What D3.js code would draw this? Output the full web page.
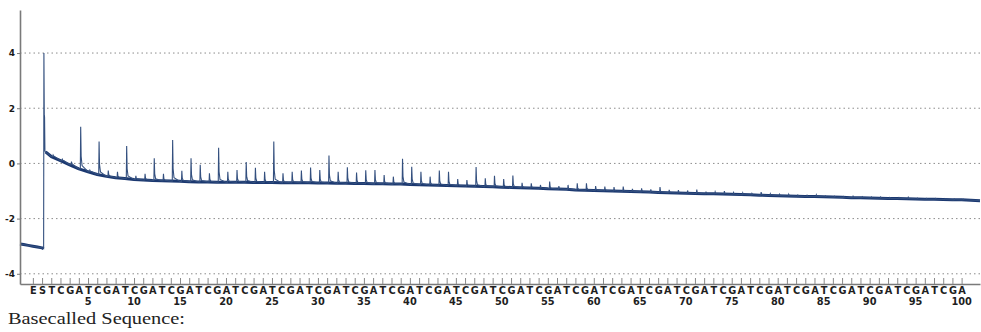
<!DOCTYPE html>
<html>
<head>
<meta charset="utf-8">
<script src="https://cdn.jsdelivr.net/npm/d3@7/dist/d3.min.js"></script>
<style>
  html, body { margin: 0; padding: 0; background: #fff; }
  svg { display: block; }
</style>
</head>
<body>
<svg id="chart" width="981" height="332"></svg>
<script>
// ---- data ----
const dispensationLetters = ("ES" +
  "TCGATCGATCGATCGATCGA" + "TCGATCGATCGATCGATCGA" + "TCGATCGATCGATCGATCGA" +
  "TCGATCGATCGATCGATCGA" + "TCGATCGATCGATCGATCGA").split("");
// dispensation index: E = -1, S = 0, nucleotides 1..100
const numberTicks = [5,10,15,20,25,30,35,40,45,50,55,60,65,70,75,80,85,90,95,100];
const yTicks = [4, 2, 0, -2, -4];

// signal before / at the E,S dispensations
const startPos = [-2.4, -2.0, -1.5, -1.0, -0.5, 0.0, 0.17, 0.2, 0.24, 0.27, 0.31, 0.38];
const startVal = [-2.92, -2.94, -2.97, -3.0, -3.03, -3.06, -3.09, 4.0, 1.75, 1.68, 0.45, 0.42];

// baseline level at each nucleotide dispensation 1..100
const baseline = [
  0.25, 0.1, -0.05, -0.2, -0.3, -0.4, -0.47, -0.52, -0.55, -0.58,
  -0.6, -0.62, -0.63, -0.64, -0.65, -0.66, -0.67, -0.67, -0.68, -0.68,
  -0.68, -0.68, -0.69, -0.69, -0.69, -0.7, -0.7, -0.7, -0.7, -0.71,
  -0.71, -0.72, -0.72, -0.73, -0.73, -0.74, -0.74, -0.75, -0.75, -0.76,
  -0.77, -0.78, -0.79, -0.8, -0.81, -0.82, -0.83, -0.84, -0.85, -0.86,
  -0.87, -0.88, -0.89, -0.9, -0.92, -0.93, -0.94, -0.96, -0.97, -0.98,
  -0.99, -1.0, -1.01, -1.02, -1.03, -1.04, -1.05, -1.06, -1.07, -1.08,
  -1.09, -1.1, -1.1, -1.11, -1.12, -1.13, -1.14, -1.15, -1.16, -1.17,
  -1.18, -1.19, -1.2, -1.2, -1.21, -1.22, -1.23, -1.24, -1.24, -1.25,
  -1.26, -1.27, -1.27, -1.28, -1.29, -1.3, -1.3, -1.31, -1.32, -1.32
];
// peak top at each nucleotide dispensation 1..100
const peakTop = [
  0.3, 0.15, 0.07, 1.33, -0.25, 0.79, -0.26, -0.30, 0.63, -0.45,
  -0.38, 0.19, -0.38, 0.85, -0.27, 0.19, -0.05, -0.36, 0.57, -0.30,
  -0.24, 0.05, -0.16, -0.30, 0.79, -0.36, -0.30, -0.26, -0.15, -0.24,
  0.29, -0.30, -0.14, -0.33, -0.25, -0.24, -0.42, -0.48, 0.17, -0.12,
  -0.30, -0.48, -0.26, -0.30, -0.57, -0.60, -0.13, -0.54, -0.45, -0.57,
  -0.44, -0.70, -0.72, -0.78, -0.66, -0.82, -0.78, -0.72, -0.72, -0.82,
  -0.84, -0.86, -0.84, -0.92, -0.90, -0.94, -0.86, -0.96, -0.97, -0.98,
  -0.95, -1.02, -1.03, -1.0, -1.06, -1.07, -1.09, -1.04, -1.1, -1.12,
  -1.12, -1.15, -1.16, -1.14, -1.18, -1.19, -1.2, -1.19, -1.21, -1.22,
  -1.22, -1.24, -1.24, -1.23, -1.26, -1.27, -1.27, -1.28, -1.29, -1.3
];
const endPos = 102, endVal = -1.35;

// ---- layout ----
const svg = d3.select("#chart");
const x = d3.scaleLinear().domain([-2.4, 102]).range([20, 980]);
const y = d3.scaleLinear().domain([-4.37, 5.56]).range([284, 10]);

// gridlines
svg.append("g").selectAll("line").data(yTicks).join("line")
  .attr("x1", x(-2.4)).attr("x2", x(102))
  .attr("y1", d => y(d)).attr("y2", d => y(d))
  .attr("stroke", "#8c8c8c").attr("stroke-width", 1)
  .attr("stroke-dasharray", "1.5,3");

// trace construction: sharp spike at each dispensation
const trace = [];
startPos.forEach((p, i) => trace.push([p, startVal[i]]));
const base = [];
base.push([startPos[startPos.length - 1], startVal[startVal.length - 1]]);
baseline.forEach((b, i) => {
  const p = i + 1, h = peakTop[i] - b;
  trace.push([p, b]);
  trace.push([p + 0.16, b]);
  trace.push([p + 0.2, peakTop[i]]);
  trace.push([p + 0.25, b + 0.3 * h]);
  trace.push([p + 0.35, b + 0.08 * h]);
  base.push([p, b]);
});
trace.push([endPos, endVal]);
base.push([endPos, endVal]);

const line = d3.line().x(d => x(d[0])).y(d => y(d[1]));
// thick baseline band
svg.append("path")
  .attr("d", line(startPos.slice(0, 7).map((p, i) => [p, startVal[i]])))
  .attr("fill", "none").attr("stroke", "#1b3870").attr("stroke-width", 3)
  .attr("stroke-linejoin", "round");
svg.append("path").attr("d", line(base))
  .attr("fill", "none").attr("stroke", "#1b3870").attr("stroke-width", 3)
  .attr("stroke-linejoin", "round");
// full signal trace
svg.append("path").attr("d", line(trace))
  .attr("fill", "none").attr("stroke", "#34507f").attr("stroke-width", 1.1)
  .attr("stroke-linejoin", "miter");

// y axis
const yAxis = svg.append("g").attr("transform", `translate(${x(-2.4)},0)`)
  .call(d3.axisLeft(y).tickValues(yTicks).tickSize(3).tickSizeOuter(0)
        .tickPadding(2).tickFormat(d => String(d)));
yAxis.select(".domain").attr("stroke", "#7a7a7a").attr("stroke-width", 1.6);
yAxis.selectAll(".tick line").attr("stroke", "#7a7a7a");
yAxis.selectAll("text").attr("font-family", "DejaVu Sans").attr("font-weight", "bold")
  .attr("font-size", 9).attr("fill", "#1a1a1a");

// x axis with dispensation letters
const dispIndex = dispensationLetters.map((_, i) => i - 1);
const xAxis = svg.append("g").attr("transform", `translate(0,${y(-4.37)})`)
  .call(d3.axisBottom(x).tickValues(dispIndex).tickSize(-6).tickSizeOuter(0)
        .tickPadding(3).tickFormat(d => dispensationLetters[d + 1]));
xAxis.select(".domain").attr("stroke", "#7a7a7a").attr("stroke-width", 1.6);
xAxis.selectAll(".tick line").attr("stroke", "#8a8a8a");
xAxis.selectAll("text").attr("font-family", "DejaVu Sans").attr("font-weight", "bold")
  .attr("font-size", 9.8).attr("fill", "#1e1e1e");

// position numbers
svg.append("g").selectAll("text").data(numberTicks).join("text")
  .attr("x", d => x(d)).attr("y", 304.5)
  .attr("text-anchor", "middle")
  .attr("font-family", "DejaVu Sans").attr("font-weight", "bold")
  .attr("font-size", 9.8).attr("fill", "#1e1e1e")
  .text(d => d);

// caption
svg.append("text").attr("x", 8).attr("y", 324)
  .attr("font-family", "Liberation Serif").attr("font-size", 16)
  .attr("fill", "#222")
  .attr("textLength", 177).attr("lengthAdjust", "spacingAndGlyphs")
  .text("Basecalled Sequence:");
</script>
</body>
</html>
